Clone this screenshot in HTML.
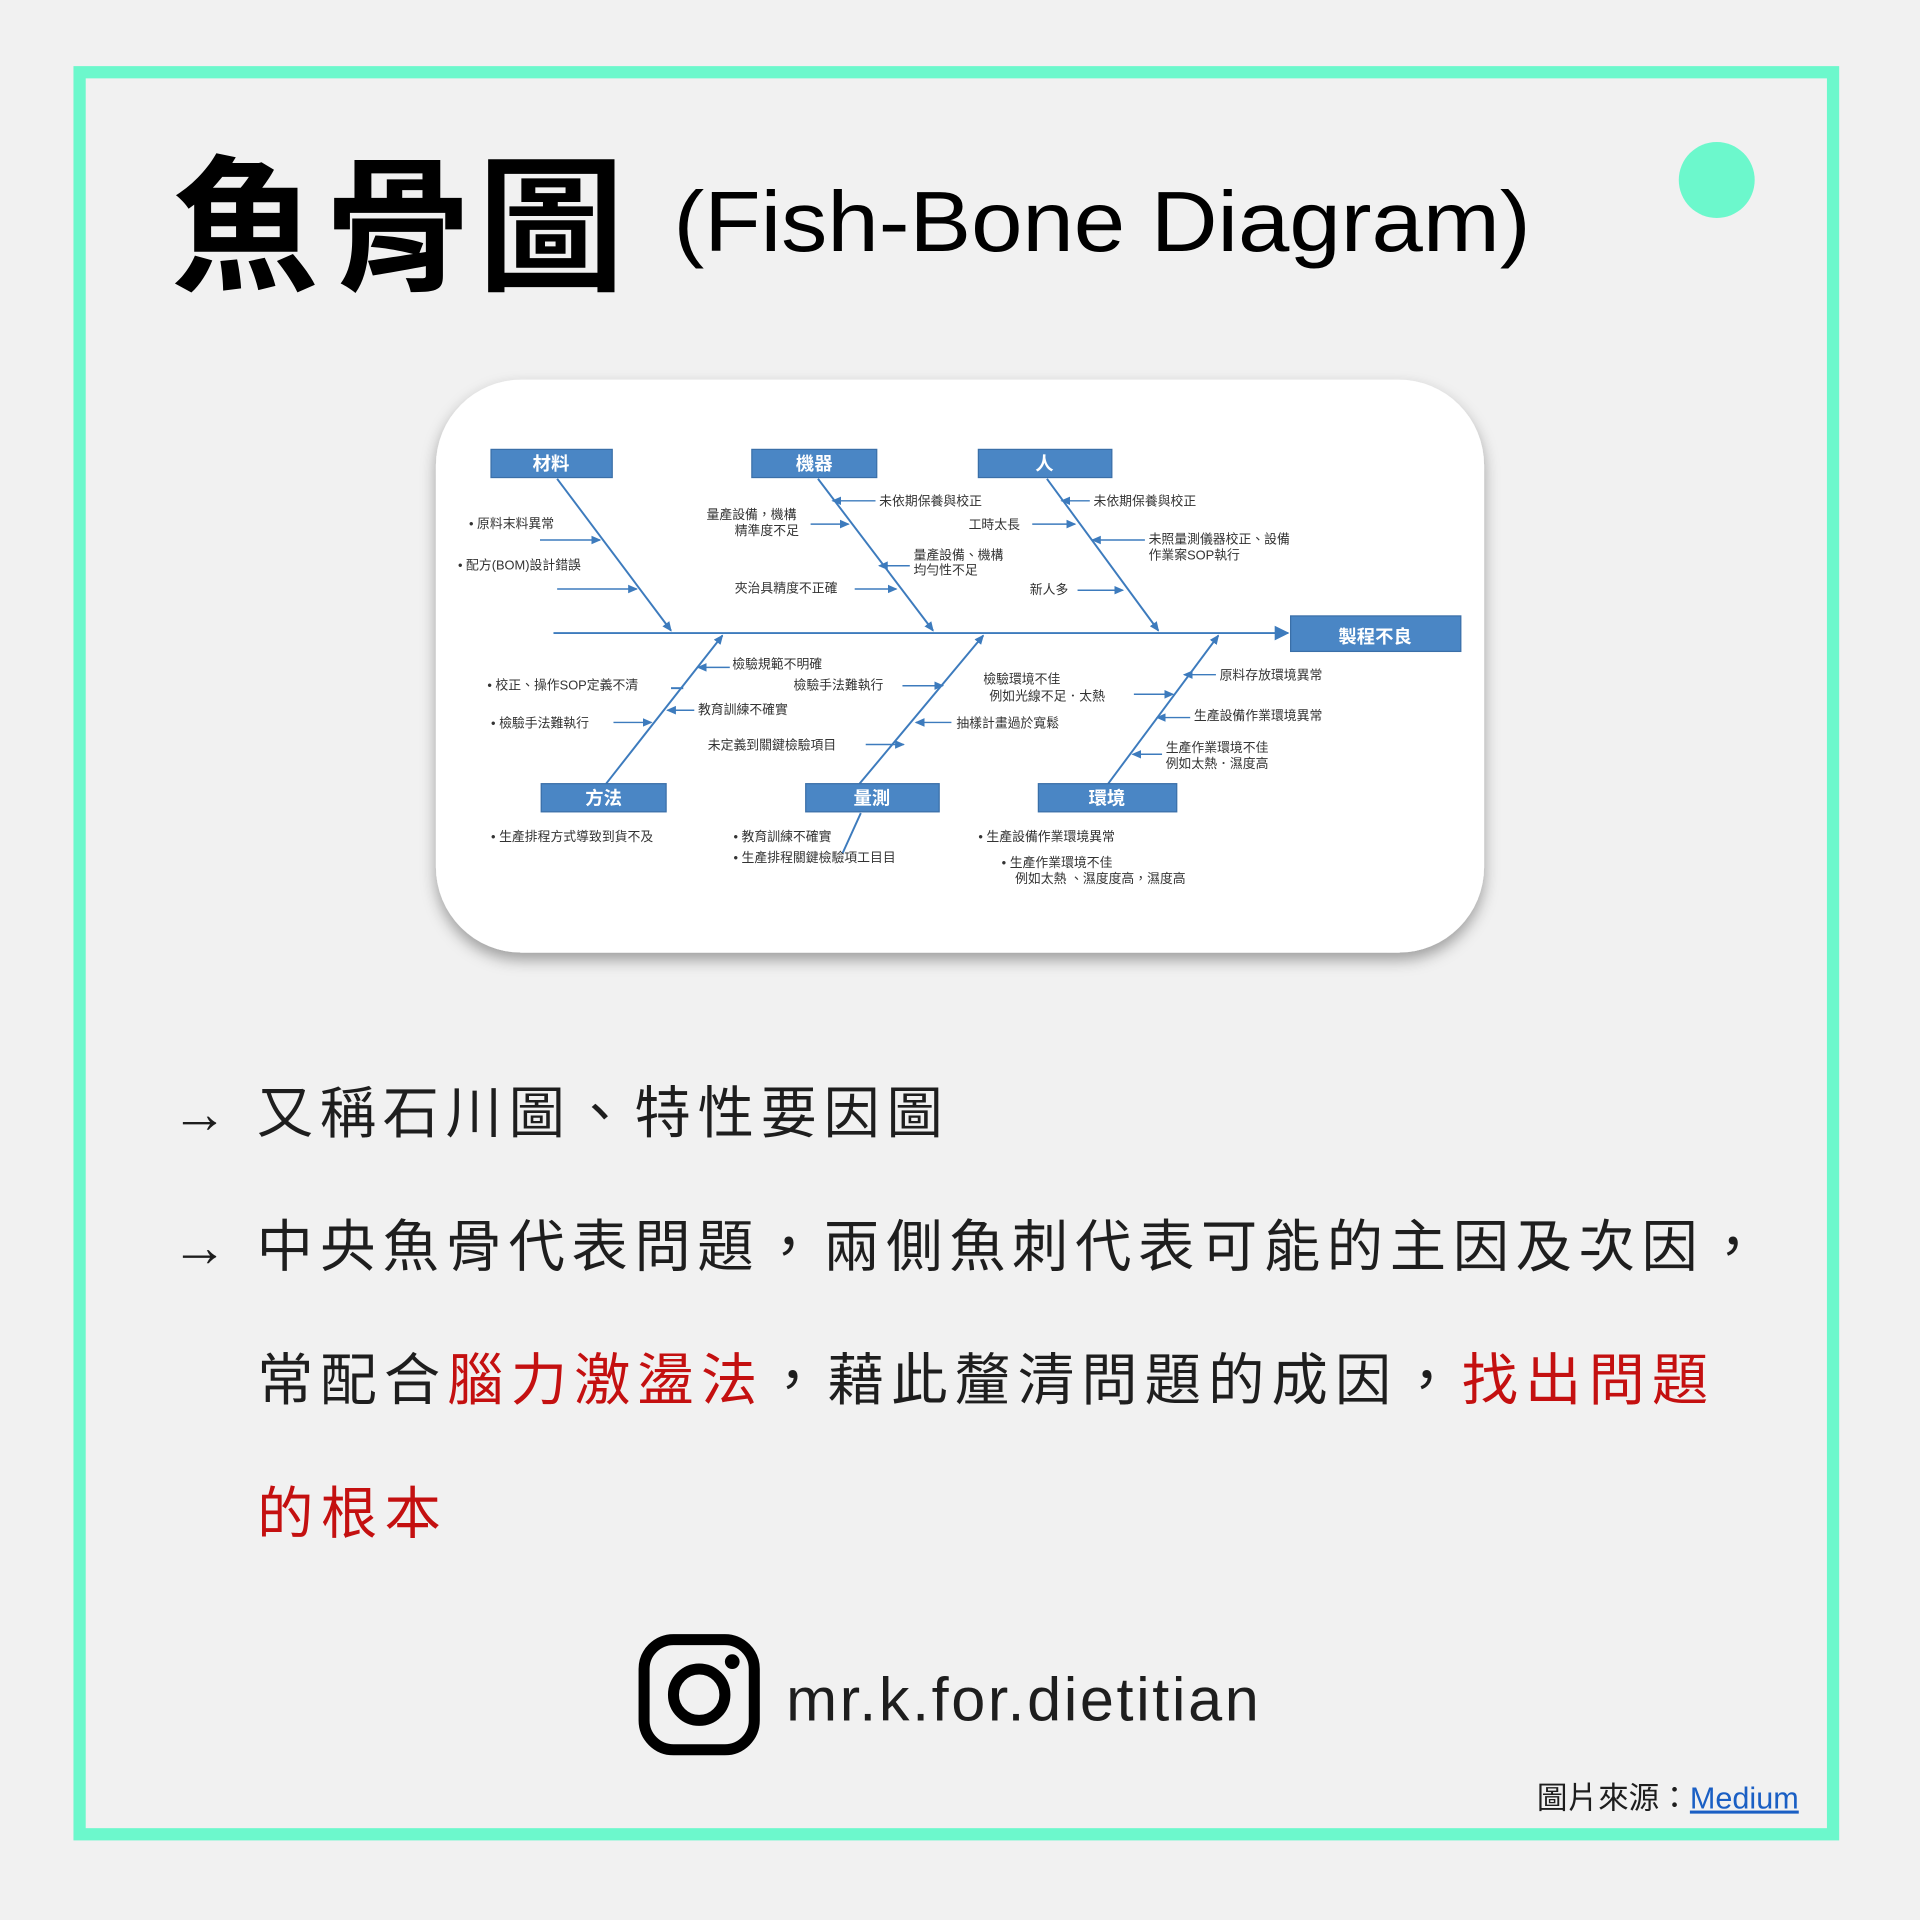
<!DOCTYPE html>
<html><head><meta charset="utf-8"><style>
html,body{margin:0;padding:0;background:#f1f1f1;}
svg{display:block;}
.cj{font-family:"Liberation Sans","Noto Sans CJK TC",sans-serif;}
.s{font-family:"Liberation Sans","Noto Sans CJK TC",sans-serif;font-size:10.5px;fill:#333;}
.bx{fill:#4a86c5;stroke:#3a6fa8;stroke-width:1;}
.bt{font-family:"Liberation Sans","Noto Sans CJK TC",sans-serif;font-weight:bold;fill:#fff;font-size:15px;text-anchor:middle;}
.ln{stroke:#3d7bbd;stroke-width:1.6;fill:none;}
.ar{stroke:#3d7bbd;stroke-width:1.2;fill:none;marker-end:url(#ah);}
</style></head><body>
<svg width="1920" height="1920" viewBox="0 0 1568 1568" xmlns="http://www.w3.org/2000/svg">
<defs>
<marker id="ah" markerWidth="8" markerHeight="8" refX="7" refY="4" orient="auto" markerUnits="userSpaceOnUse"><path d="M0,0.5 L8,4 L0,7.5 z" fill="#3d7bbd"/></marker>
<marker id="ahb" markerWidth="12" markerHeight="12" refX="11" refY="6" orient="auto" markerUnits="userSpaceOnUse"><path d="M0,0 L12,6 L0,12 z" fill="#3d7bbd"/></marker>
<filter id="sh" x="-10%" y="-10%" width="120%" height="130%"><feDropShadow dx="0" dy="6" stdDeviation="6" flood-color="#000" flood-opacity="0.35"/></filter>
</defs>
<rect width="1568" height="1568" fill="#f1f1f1"/>
<rect x="65" y="59" width="1432" height="1439" fill="none" stroke="#6cf8cc" stroke-width="10"/>
<circle cx="1402" cy="147" r="31" fill="#6cf8cc"/>
<text x="140" y="228" class="cj" font-size="120" font-weight="bold" fill="#000" textLength="370" lengthAdjust="spacing">魚骨圖</text>
<text x="550" y="205" font-family="Liberation Sans, sans-serif" font-size="70" fill="#000" textLength="700" lengthAdjust="spacingAndGlyphs">(Fish-Bone Diagram)</text>

<rect x="356" y="310" width="856" height="468" rx="70" fill="#fff" filter="url(#sh)"/>
<line x1="452" y1="517" x2="1052" y2="517" class="ln" marker-end="url(#ahb)"/>
<line x1="455" y1="391" x2="548" y2="515" class="ln" marker-end="url(#ah)"/>
<line x1="668" y1="391" x2="762" y2="515" class="ln" marker-end="url(#ah)"/>
<line x1="855" y1="391" x2="946" y2="515" class="ln" marker-end="url(#ah)"/>
<line x1="495" y1="640" x2="590" y2="519" class="ln" marker-end="url(#ah)"/>
<line x1="702" y1="640" x2="803" y2="519" class="ln" marker-end="url(#ah)"/>
<line x1="905" y1="640" x2="995" y2="519" class="ln" marker-end="url(#ah)"/>
<line x1="703" y1="664" x2="688" y2="697" class="ln"/>
<rect x="401" y="367" width="99" height="23" class="bx"/><text x="450" y="384" class="bt">材料</text>
<rect x="614" y="367" width="102" height="23" class="bx"/><text x="665" y="384" class="bt">機器</text>
<rect x="799" y="367" width="109" height="23" class="bx"/><text x="853" y="384" class="bt">人</text>
<rect x="1054" y="503" width="139" height="29" class="bx"/><text x="1123" y="525" class="bt" font-size="20">製程不良</text>
<rect x="442" y="640" width="102" height="23" class="bx"/><text x="493" y="657" class="bt">方法</text>
<rect x="658" y="640" width="109" height="23" class="bx"/><text x="712" y="657" class="bt">量測</text>
<rect x="848" y="640" width="113" height="23" class="bx"/><text x="904" y="657" class="bt">環境</text>
<text x="383" y="431" class="s">• 原料末料異常</text>
<line x1="441" y1="441" x2="490" y2="441" class="ar"/>
<text x="374" y="465" class="s">• 配方(BOM)設計錯誤</text>
<line x1="455" y1="481" x2="520" y2="481" class="ar"/>
<text x="718" y="413" class="s">未依期保養與校正</text>
<line x1="715" y1="409" x2="680" y2="409" class="ar"/>
<text x="577" y="424" class="s">量產設備，機構</text>
<text x="600" y="437" class="s">精準度不足</text>
<line x1="662" y1="428" x2="693" y2="428" class="ar"/>
<text x="746" y="457" class="s">量產設備、機構</text>
<text x="746" y="469" class="s">均勻性不足</text>
<line x1="743" y1="462" x2="718" y2="462" class="ar"/>
<text x="600" y="484" class="s">夾治具精度不正確</text>
<line x1="698" y1="481" x2="732" y2="481" class="ar"/>
<text x="893" y="413" class="s">未依期保養與校正</text>
<line x1="890" y1="409" x2="867" y2="409" class="ar"/>
<text x="791" y="432" class="s">工時太長</text>
<line x1="843" y1="428" x2="878" y2="428" class="ar"/>
<text x="938" y="444" class="s">未照量測儀器校正、設備</text>
<text x="938" y="457" class="s">作業案SOP執行</text>
<line x1="935" y1="441" x2="892" y2="441" class="ar"/>
<text x="841" y="485" class="s">新人多</text>
<line x1="880" y1="482" x2="917" y2="482" class="ar"/>
<text x="398" y="563" class="s">• 校正、操作SOP定義不清</text>
<line x1="548" y1="562" x2="558" y2="562" class="ln" stroke-width="1"/>
<text x="598" y="546" class="s">檢驗規範不明確</text>
<line x1="596" y1="545" x2="570" y2="545" class="ar"/>
<text x="570" y="583" class="s">教育訓練不確實</text>
<line x1="567" y1="580" x2="545" y2="580" class="ar"/>
<text x="401" y="594" class="s">• 檢驗手法難執行</text>
<line x1="501" y1="590" x2="532" y2="590" class="ar"/>
<text x="648" y="563" class="s">檢驗手法難執行</text>
<line x1="737" y1="560" x2="770" y2="560" class="ar"/>
<text x="781" y="594" class="s">抽樣計畫過於寬鬆</text>
<line x1="777" y1="590" x2="748" y2="590" class="ar"/>
<text x="578" y="612" class="s">未定義到關鍵檢驗項目</text>
<line x1="707" y1="608" x2="738" y2="608" class="ar"/>
<text x="803" y="558" class="s">檢驗環境不佳</text>
<text x="808" y="572" class="s">例如光線不足．太熱</text>
<line x1="926" y1="567" x2="958" y2="567" class="ar"/>
<text x="996" y="555" class="s">原料存放環境異常</text>
<line x1="993" y1="551" x2="967" y2="551" class="ar"/>
<text x="975" y="588" class="s">生產設備作業環境異常</text>
<line x1="972" y1="586" x2="945" y2="586" class="ar"/>
<text x="952" y="614" class="s">生產作業環境不佳</text>
<text x="952" y="627" class="s">例如太熱．濕度高</text>
<line x1="949" y1="616" x2="925" y2="616" class="ar"/>
<text x="401" y="687" class="s">• 生產排程方式導致到貨不及</text>
<text x="599" y="687" class="s">• 教育訓練不確實</text>
<text x="599" y="704" class="s">• 生產排程關鍵檢驗項工目目</text>
<text x="799" y="687" class="s">• 生產設備作業環境異常</text>
<text x="818" y="708" class="s">• 生產作業環境不佳</text>
<text x="829" y="721" class="s">例如太熱 、濕度度高，濕度高</text>

<g class="cj" font-size="46" fill="#1e1e1e">
<text x="140" y="925" textLength="630" lengthAdjust="spacing">→ 又稱石川圖、特性要因圖</text>
<text x="140" y="1034" textLength="1298" lengthAdjust="spacing">→ 中央魚骨代表問題，兩側魚刺代表可能的主因及次因，</text>
<text x="210" y="1143" textLength="1185" lengthAdjust="spacing">常配合<tspan fill="#c41010">腦力激盪法</tspan>，藉此釐清問題的成因，<tspan fill="#c41010">找出問題</tspan></text>
<text x="210" y="1252" fill="#c41010" textLength="150" lengthAdjust="spacing">的根本</text>
</g>
<rect x="526" y="1339" width="90" height="90" rx="24" fill="none" stroke="#000" stroke-width="9"/>
<circle cx="571" cy="1384" r="21" fill="none" stroke="#000" stroke-width="9"/>
<circle cx="598" cy="1357" r="6" fill="#000"/>
<text x="642" y="1405" font-family="Liberation Sans, sans-serif" font-size="50" fill="#1e1e1e" textLength="386" lengthAdjust="spacing">mr.k.for.dietitian</text>
<text x="1469" y="1477" text-anchor="end" class="cj" font-size="25" fill="#1e1e1e">圖片來源：<tspan fill="#1a5fc4" text-decoration="underline">Medium</tspan></text>
</svg>
</body></html>
